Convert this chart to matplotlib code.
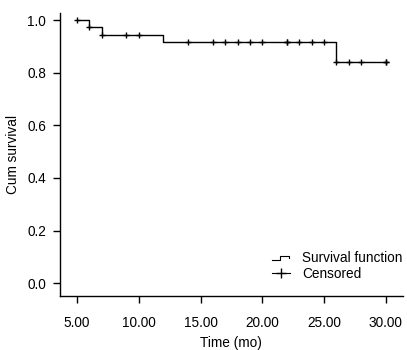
import matplotlib
matplotlib.use("Agg")
import matplotlib.pyplot as plt
from matplotlib.lines import Line2D
from matplotlib.legend_handler import HandlerBase

plt.rcParams['font.family'] = ['Liberation Sans', 'DejaVu Sans']

# Kaplan-Meier step data
step_times = [5, 6, 7, 12, 26, 30]
step_surv = [1.0, 0.972, 0.944, 0.915, 0.840, 0.840]

# Censored observations
cens_times = [5, 6, 7, 9, 10, 14, 16, 17, 18, 19, 20, 22, 22, 23, 24, 25, 26, 27, 28, 30, 30]
cens_surv = [1.0, 0.972, 0.944, 0.944, 0.944, 0.915, 0.915, 0.915, 0.915, 0.915, 0.915,
             0.915, 0.915, 0.915, 0.915, 0.915, 0.840, 0.840, 0.840, 0.840, 0.840]

xticks = [5, 10, 15, 20, 25, 30]
xticklabels = ["5.00", "10.00", "15.00", "20.00", "25.00", "30.00"]
yticks = [0.0, 0.2, 0.4, 0.6, 0.8, 1.0]
yticklabels = ["0.0", "0.2", "0.4", "0.6", "0.8", "1.0"]

fs = 9.8

fig = plt.figure(figsize=(4.07, 3.5), dpi=100)
ax = fig.add_axes([0.147, 0.154, 0.843, 0.809])

ax.step(step_times, step_surv, where='post', color='black', lw=1.0)
ax.plot(cens_times, cens_surv, linestyle='none', marker='+', color='black',
        markersize=5, markeredgewidth=1.0)

ax.set_xlim(3.6, 31.4)
ax.set_ylim(-0.049, 1.027)
ax.set_xticks(xticks)
ax.set_xticklabels(xticklabels)
ax.set_yticks(yticks)
ax.set_yticklabels(yticklabels)
for s in ['top', 'right']:
    ax.spines[s].set_visible(False)
for s in ['left', 'bottom']:
    ax.spines[s].set_linewidth(1.0)
ax.tick_params(direction='out', length=5, width=1.0, labelsize=fs)
ax.tick_params(axis='x', pad=9)
ax.tick_params(axis='y', pad=5)
ax.set_xlabel("Time (mo)", fontsize=fs, labelpad=5)
ax.set_ylabel("Cum survival", fontsize=fs, labelpad=5)


class StepHandler(HandlerBase):
    def create_artists(self, legend, orig_handle, xdescent, ydescent, width, height, fontsize, trans):
        x0 = -xdescent
        y0 = -ydescent + height * 0.2
        h = height * 0.45
        xs = [x0, x0 + width * 0.45, x0 + width * 0.45, x0 + width * 0.95, x0 + width * 0.95]
        ys = [y0, y0, y0 + h, y0 + h, y0 + h * 0.5]
        ln = Line2D(xs, ys, color='black', lw=0.8, transform=trans)
        return [ln]


h1 = Line2D([], [], color='black')
h2 = Line2D([], [], color='black', marker='+', markersize=7, lw=0.8)
leg = ax.legend([h1, h2], ["Survival function", "Censored"], handler_map={h1: StepHandler()},
                loc='lower right', bbox_to_anchor=(1.026, 0.02), frameon=False, fontsize=fs,
                handlelength=1.3, handletextpad=0.9, labelspacing=0.15, borderpad=0.2)

fig.savefig("out.png", dpi=100)
